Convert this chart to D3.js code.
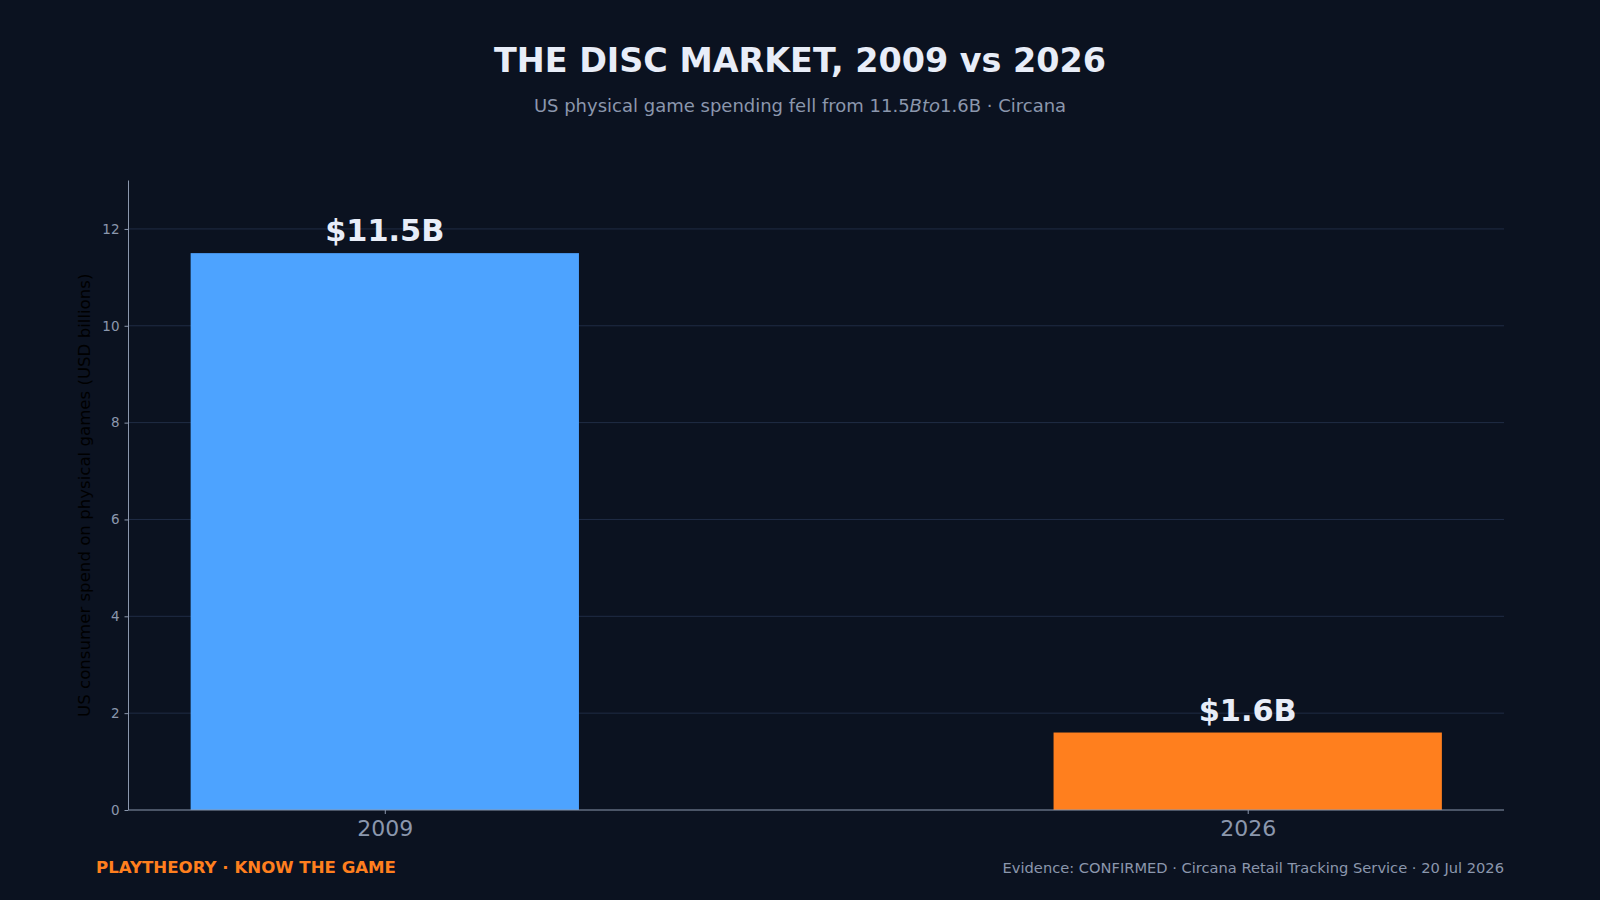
<!DOCTYPE html>
<html>
<head>
<meta charset="utf-8">
<script src="https://cdn.jsdelivr.net/npm/d3@7"></script>
<style>
  html, body { margin: 0; padding: 0; background: #0b1220; }
  svg { display: block; font-family: "DejaVu Sans", sans-serif; }
</style>
</head>
<body>
<div id="chart"></div>
<script>
// data
var years = ["2009", "2026"];
var spend = [11.5, 1.6];
var valueLabels = ["$11.5B", "$1.6B"];
var barColors = ["#4da3ff", "#ff7f1e"];
var yTicks = [0, 2, 4, 6, 8, 10, 12];

var W = 1600, H = 900;
var bg = "#0b1220";
var muted = "#8b97ad";

// plot area
var plotLeft = 128.5, plotRight = 1504, plotTop = 180.5, plotBottom = 810;

var svg = d3.select("#chart").append("svg")
    .attr("width", W)
    .attr("height", H);

svg.append("rect").attr("width", W).attr("height", H).attr("fill", bg);

// scales
var x = d3.scaleLinear().domain([-0.297, 1.297]).range([plotLeft, plotRight]);
var y = d3.scaleLinear().domain([0, 13]).range([plotBottom, plotTop]);
var barW = 0.45;

// grid lines
svg.append("g")
    .selectAll("line")
    .data(yTicks.filter(function (d) { return d > 0; }))
    .enter().append("line")
    .attr("x1", plotLeft).attr("x2", plotRight)
    .attr("y1", function (d) { return y(d); })
    .attr("y2", function (d) { return y(d); })
    .attr("stroke", "#202c45")
    .attr("stroke-width", 1);

// bars
svg.append("g")
    .selectAll("rect")
    .data(spend)
    .enter().append("rect")
    .attr("x", function (d, i) { return x(i - barW / 2); })
    .attr("width", function (d, i) { return x(i + barW / 2) - x(i - barW / 2); })
    .attr("y", function (d) { return y(d); })
    .attr("height", function (d) { return y(0) - y(d); })
    .attr("fill", function (d, i) { return barColors[i]; });

// y axis
var yAxis = svg.append("g")
    .attr("transform", "translate(" + plotLeft + ",0)")
    .call(d3.axisLeft(y).tickValues(yTicks).tickSize(4).tickPadding(5).tickSizeOuter(0));
yAxis.select(".domain").attr("stroke", muted).attr("d", "M0," + plotTop + "V" + plotBottom);
yAxis.selectAll(".tick line").attr("stroke", muted);
yAxis.selectAll(".tick text")
    .attr("fill", muted)
    .style("font-size", "13.5px")
    .style("font-family", "DejaVu Sans");

// x axis
var xAxis = svg.append("g")
    .attr("transform", "translate(0," + plotBottom + ")")
    .call(d3.axisBottom(x).tickValues([0, 1])
        .tickFormat(function (d) { return years[d]; })
        .tickSize(4).tickPadding(6).tickSizeOuter(0));
xAxis.select(".domain").attr("stroke", muted).attr("d", "M" + plotLeft + ",0H" + plotRight);
xAxis.selectAll(".tick line").attr("stroke", muted);
xAxis.selectAll(".tick text")
    .attr("fill", muted)
    .style("font-size", "22px")
    .style("font-family", "DejaVu Sans");

// value labels
svg.append("g")
    .selectAll("text")
    .data(spend)
    .enter().append("text")
    .attr("x", function (d, i) { return x(i); })
    .attr("y", function (d) { return y(d) - 12; })
    .attr("text-anchor", "middle")
    .attr("fill", "#e8edf8")
    .style("font-size", "30.4px")
    .style("font-weight", "bold")
    .text(function (d, i) { return valueLabels[i]; });

// y axis title
svg.append("text")
    .attr("transform", "translate(90," + ((plotTop + plotBottom) / 2) + ") rotate(-90)")
    .attr("text-anchor", "middle")
    .attr("fill", "#000000")
    .style("font-size", "16.6px")
    .text("US consumer spend on physical games (USD billions)");

// title
svg.append("text")
    .attr("x", 800).attr("y", 72)
    .attr("text-anchor", "middle")
    .attr("fill", "#e8edf8")
    .style("font-size", "33.4px")
    .style("font-weight", "bold")
    .text("THE DISC MARKET, 2009 vs 2026");

// subtitle (the B to got italicised like mathtext)
var sub = svg.append("text")
    .attr("x", 800).attr("y", 112)
    .attr("text-anchor", "middle")
    .attr("fill", muted)
    .style("font-size", "18px");
sub.append("tspan").text("US physical game spending fell from 11.5");
sub.append("tspan").style("font-style", "italic").text("Bto");
sub.append("tspan").text("1.6B \u00b7 Circana");

// footer
svg.append("text")
    .attr("x", 96).attr("y", 873)
    .attr("fill", "#ff7f1e")
    .style("font-size", "16.6px")
    .style("font-weight", "bold")
    .text("PLAYTHEORY \u00b7 KNOW THE GAME");

svg.append("text")
    .attr("x", 1504).attr("y", 873)
    .attr("text-anchor", "end")
    .attr("fill", muted)
    .style("font-size", "14.65px")
    .text("Evidence: CONFIRMED \u00b7 Circana Retail Tracking Service \u00b7 20 Jul 2026");
</script>
</body>
</html>
